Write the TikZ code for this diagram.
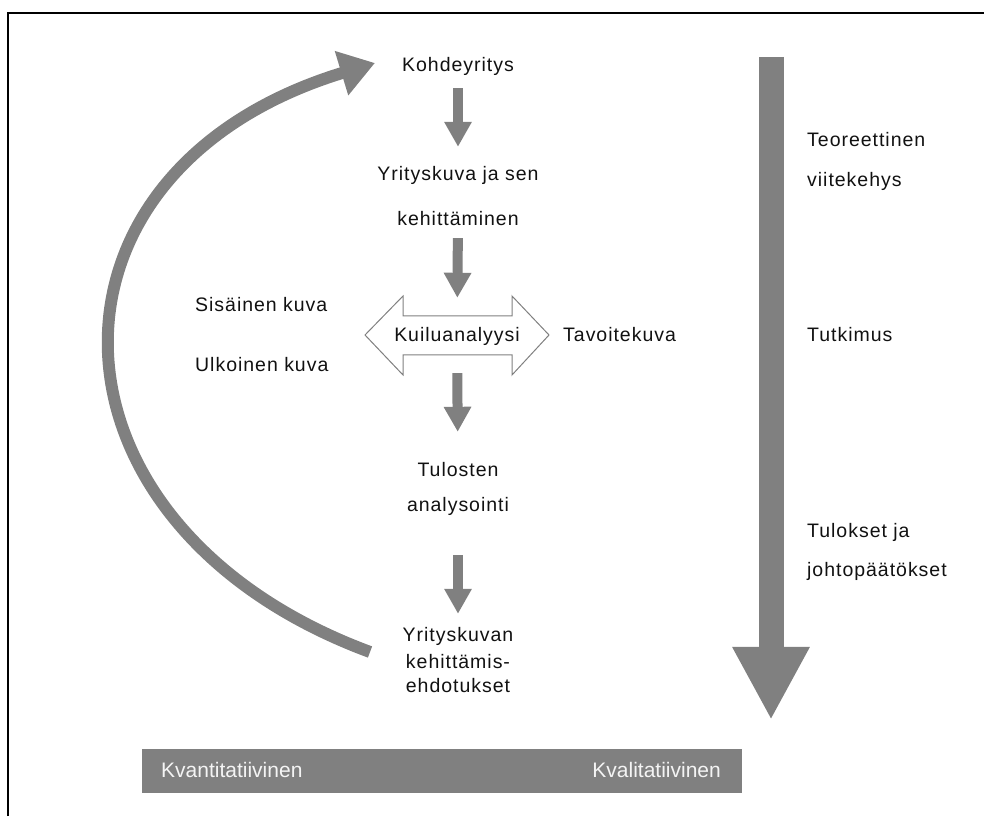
\documentclass[tikz,border=0pt]{standalone}
\usepackage{fontspec}
\setmainfont{Liberation Sans}
\newfontfamily\ykspaced[LetterSpace=5]{Liberation Sans}
\usepackage{xcolor}
\usepackage{tikz}
\usetikzlibrary{arrows.meta,positioning}
\definecolor{ykGrey}{HTML}{808080}
\definecolor{ykInk}{HTML}{111111}
\definecolor{ykPale}{HTML}{F4F4F4}
\tikzset{
  yk diagram/.style={x=1pt, y=1pt, font=\ykspaced\fontsize{19.5}{22}\selectfont,
    text=ykInk},
  yk label/.style={inner sep=0pt, text height=14pt, text depth=4pt},
  yk step/.style={-{Triangle[length=25pt,width=26pt]}, draw=ykGrey, line width=10pt},
  yk loop/.style={-{Triangle[length=35pt,width=44pt]}, draw=ykGrey, line width=12pt},
  yk research/.style={-{Triangle[length=73pt,width=72pt]}, draw=ykGrey, line width=25pt},
  yk gap/.style={draw=ykGrey, fill=white, line width=1pt, line join=miter},
  yk bar/.style={fill=ykGrey},
  yk bar text/.style={font=\fontsize{21}{24}\selectfont, text=ykPale, inner sep=0pt}
}

\begin{document}
\begin{tikzpicture}[yk diagram]
\useasboundingbox (0,0) rectangle (984,816);
\draw[line width=2pt] (8,0) -- (8,803) -- (984,803);
\node[yk label] (kohde) at (458,749) {Kohdeyritys};
\node[yk label] (kuva) at (458,640) {Yrityskuva ja sen};
\node[yk label] (kehitys) at (458,595) {kehittäminen};
\draw[yk gap] (365,481) -- (403,520) -- (403,500) -- (512,500) -- (512,520) -- (549,481)
  -- (512,441) -- (512,461) -- (403,461) -- (403,441) -- cycle;
\node[yk label] (gap) at (457,479) {Kuiluanalyysi};
\node[yk label, anchor=west] (sisa) at (195,509) {Sisäinen kuva};
\node[yk label, anchor=west] (ulko) at (195,449) {Ulkoinen kuva};
\node[yk label, anchor=west] (tavoite) at (563,479) {Tavoitekuva};
\node[yk label] (tulos) at (458,344) {Tulosten};
\node[yk label] (analyysi) at (458,309) {analysointi};
\node[yk label] (ehd1) at (458,179) {Yrityskuvan};
\node[yk label] (ehd2) at (458,152) {kehittämis-};
\node[yk label] (ehd3) at (458,128) {ehdotukset};
\draw[yk step, shorten <=12pt, shorten >=20pt] (kohde) -- (kuva);
\draw[yk step, shorten <=8pt, shorten >=30pt] (kehitys) -- (gap);
\draw[yk step, shorten <=27pt, shorten >=31pt] (gap) -- (tulos);
\draw[yk step, shorten <=39pt, shorten >=14pt] (analyysi) -- (ehd1);
\coordinate (loopstart) at (370,164);
\draw[yk loop] (loopstart) .. controls (30,290) and (20,645) .. ([shift={(-27,4)}]kohde.west);
\coordinate (restop) at (771,759);
\coordinate (resend) at (771,96);
\draw[yk research] (restop) -- (resend);
\node[yk label, anchor=west] (teoria1) at (807,674) {Teoreettinen};
\node[yk label, anchor=west] (teoria2) at (807,634) {viitekehys};
\node[yk label, anchor=west] (tutkimus) at (807,479) {Tutkimus};
\node[yk label, anchor=west] (johto1) at (807,283) {Tulokset ja};
\node[yk label, anchor=west] (johto2) at (807,244) {johtopäätökset};
\fill[yk bar] (142,23) rectangle (742,67);
\node[yk bar text, anchor=west] (kvanti) at (161,46) {Kvantitatiivinen};
\node[yk bar text, anchor=east] (kvali) at (721,46) {Kvalitatiivinen};
\end{tikzpicture}
\end{document}
